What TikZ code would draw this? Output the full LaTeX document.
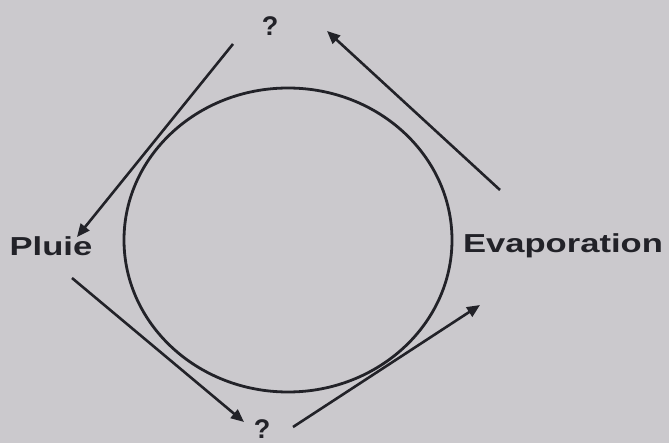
\documentclass[tikz,border=0pt]{standalone}
\usepackage{fontspec}
\setmainfont{Liberation Sans}
\usetikzlibrary{arrows.meta}
\definecolor{paper}{RGB}{203,201,205}
\definecolor{ink}{RGB}{34,34,40}
\tikzset{
  lbl/.style={text=ink, font=\bfseries\fontsize{26}{30}\selectfont, xscale=1.33, inner sep=0pt},
  qm/.style={text=ink, font=\bfseries\fontsize{27}{30}\selectfont, inner sep=0pt},
  flow/.style={draw=ink, line width=2.6pt, -{Triangle[length=13pt,width=11pt]}},
}
\begin{document}
\begin{tikzpicture}[x=1pt,y=-1pt]
\fill[paper] (0,0) rectangle (669,443);
\useasboundingbox (0,0) rectangle (669,443);
\draw[ink, line width=2.8pt] (288,240) ellipse [x radius=164, y radius=152];
\node[qm] (qtop) at (270,26) {?};
\node[qm] (qbot) at (262,429) {?};
\node[lbl] (pluie) at (51,246) {Pluie};
\node[lbl] (evap) at (563,246) {Evaporation};
\coordinate (a1s) at (233,44);
\coordinate (a1e) at (77,237);
\coordinate (a2s) at (72,278);
\coordinate (a2e) at (244,422);
\coordinate (a3s) at (293,427);
\coordinate (a3e) at (480,305);
\coordinate (a4s) at (500,190);
\coordinate (a4e) at (327,31);
\draw[flow] (a1s) -- (a1e);
\draw[flow] (a2s) -- (a2e);
\draw[flow] (a3s) -- (a3e);
\draw[flow] (a4s) -- (a4e);
\end{tikzpicture}
\end{document}
